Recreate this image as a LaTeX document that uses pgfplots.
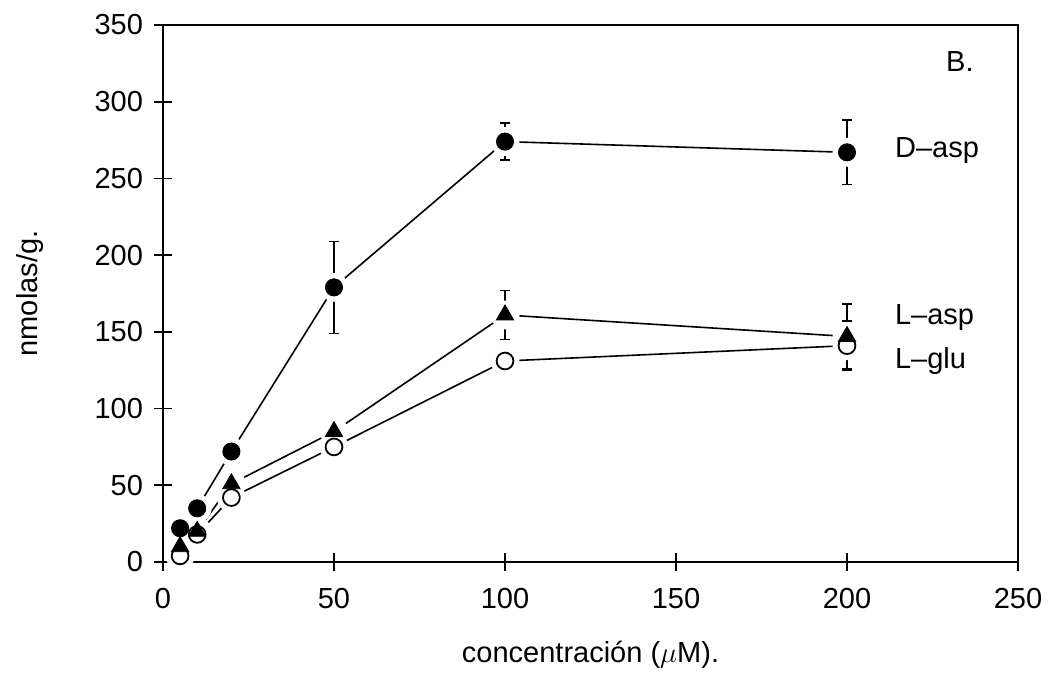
\documentclass[border=0pt]{standalone}
\usepackage{pgfplots}
\pgfplotsset{compat=1.18}
\usepackage{pgfplotstable}
\usepackage{fontspec}
\setmainfont{Liberation Sans}

% concentration (uM), nmol/g
\pgfplotstableread{
x y
5 22
10 35
20 72
50 179
100 274
200 267
}\dasp
\pgfplotstableread{
x y
5 10
10 20
20 51
50 85
100 161
200 147
}\lasp
\pgfplotstableread{
x y
5 4
10 18
20 42
50 75
100 131
200 141
}\lglu

\newcommand{\lbl}{\fontsize{14.5}{17}\selectfont}

\begin{document}
\begin{tikzpicture}
\begin{axis}[
    scale only axis,
    width=427.5pt, height=268.5pt,
    xmin=0, xmax=250, ymin=0, ymax=350,
    xtick={0,50,...,250}, ytick={0,50,...,350},
    tick pos=left,
    tick align=center,
    major tick length=9pt,
    axis line style={line width=0.9pt},
    tick style={line width=0.9pt, black},
    every tick label/.append style={font=\lbl},
    xticklabel style={yshift=-5pt},
    yticklabel style={xshift=-2pt},
    label style={font=\lbl},
    /pgf/number format/assume math mode=true,
    xlabel={concentración ($\mu$M).},
    ylabel={nmolas/g.},
    xlabel style={at={(axis description cs:0.5,-0.173)}, anchor=center},
    ylabel style={at={(axis description cs:-0.1556,0.5)}, anchor=center},
    clip=false,
]
% lines
\addplot[black, line width=0.8pt, no markers] table {\lglu};
\addplot[black, line width=0.8pt, no markers] table {\lasp};
\addplot[black, line width=0.8pt, no markers] table {\dasp};

% error bars
\addplot[black, only marks, mark=none, error bars/.cd, y dir=both, y explicit,
    error bar style={line width=0.8pt},
    error mark options={rotate=90, mark size=2.5pt, line width=0.8pt}]
    coordinates {(50,179) +- (0,30) (100,274) +- (0,12) (200,267) +- (0,21)};
\addplot[black, only marks, mark=none, error bars/.cd, y dir=both, y explicit,
    error bar style={line width=0.8pt},
    error mark options={rotate=90, mark size=2.5pt, line width=0.8pt}]
    coordinates {(100,161) +- (0,16) (200,147) +- (0,21)};
\addplot[black, only marks, mark=none, error bars/.cd, y dir=both, y explicit,
    error bar style={line width=0.8pt},
    error mark options={rotate=90, mark size=2.5pt, line width=0.8pt}]
    coordinates {(200,141) +- (0,16)};

% white gaps round the markers
\addplot[only marks, mark=*, mark size=7pt, white] table {\lglu};
\addplot[only marks, mark=*, mark size=7pt, white] table {\lasp};
\addplot[only marks, mark=*, mark size=7pt, white] table {\dasp};

% markers
\addplot[only marks, mark=*, mark size=4.2pt, mark options={fill=white, draw=black, line width=0.9pt}] table {\lglu};
\addplot[only marks, mark=triangle*, mark size=5pt, black] table {\lasp};
\addplot[only marks, mark=*, mark size=4.3pt, black] table {\dasp};

\node[font=\lbl, anchor=center] at (axis cs:233,326) {B.};
\node[font=\lbl, anchor=west] at (axis cs:212,268) {D--asp};
\node[font=\lbl, anchor=west] at (axis cs:212,159.5) {L--asp};
\node[font=\lbl, anchor=west] at (axis cs:212,131) {L--glu};
\end{axis}
\pgfresetboundingbox
\useasboundingbox ([xshift=-81.5pt,yshift=-57.5pt]current axis.south west)
    rectangle ([xshift=17pt,yshift=12.5pt]current axis.north east);
\end{tikzpicture}
\end{document}
